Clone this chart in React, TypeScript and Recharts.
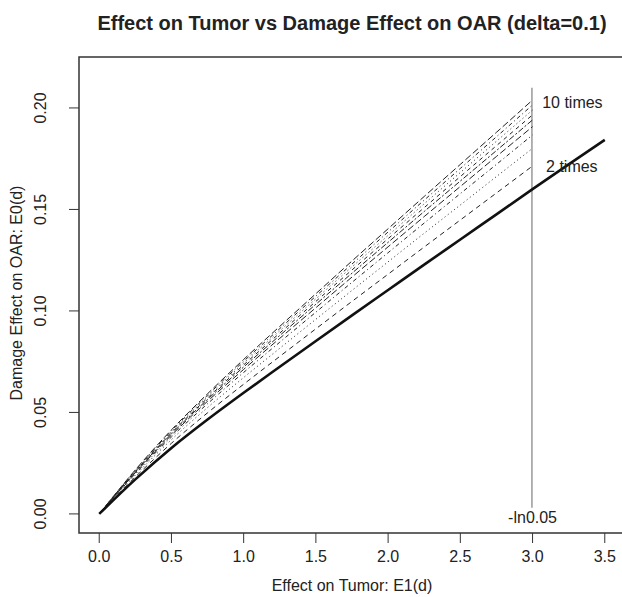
import React from 'react';
import { LineChart, Line, XAxis, YAxis, ReferenceLine, ReferenceArea, ReferenceDot } from 'recharts';

// effect on tumor E1(d)
const tumorEffect = [0, 0.25, 0.5, 0.75, 1.0, 1.25, 1.5, 1.75, 2.0, 2.25, 2.5, 2.75, 3.0, 3.25, 3.5];

// base curve (thick solid)
const baseCurve = [0, 0.017, 0.0325, 0.0465, 0.0597, 0.0725, 0.0852, 0.0978, 0.1103, 0.1228, 0.1352, 0.1476, 0.16, 0.1722, 0.1843];

// curves for 2..10 times, drawn up to -ln0.05
const times2 = [0, 0.0182, 0.0348, 0.0498, 0.0639, 0.0776, 0.0912, 0.1047, 0.1181, 0.1315, 0.1448, 0.1581, 0.1714];
const times3 = [0, 0.0191, 0.0366, 0.0524, 0.0672, 0.0816, 0.0959, 0.1101, 0.1242, 0.1383, 0.1522, 0.1662, 0.1801];
const times4 = [0, 0.0198, 0.0379, 0.0543, 0.0697, 0.0846, 0.0994, 0.1141, 0.1287, 0.1433, 0.1578, 0.1722, 0.1867];
const times5 = [0, 0.0203, 0.0388, 0.0555, 0.0712, 0.0865, 0.1016, 0.1167, 0.1316, 0.1465, 0.1613, 0.1761, 0.1908];
const times6 = [0, 0.0206, 0.0394, 0.0564, 0.0724, 0.0879, 0.1033, 0.1186, 0.1338, 0.149, 0.164, 0.179, 0.1941];
const times7 = [0, 0.0209, 0.0399, 0.0571, 0.0734, 0.0891, 0.1047, 0.1202, 0.1356, 0.1509, 0.1662, 0.1814, 0.1966];
const times8 = [0, 0.0211, 0.0404, 0.0578, 0.0743, 0.0902, 0.106, 0.1217, 0.1372, 0.1528, 0.1682, 0.1836, 0.199];
const times9 = [0, 0.0214, 0.0409, 0.0585, 0.0752, 0.0913, 0.1073, 0.1231, 0.1389, 0.1546, 0.1702, 0.1858, 0.2015];
const times10 = [0, 0.0217, 0.0414, 0.0592, 0.0761, 0.0924, 0.1085, 0.1246, 0.1405, 0.1564, 0.1722, 0.188, 0.2039];

const xTicks = [0, 0.5, 1.0, 1.5, 2.0, 2.5, 3.0, 3.5];
const yTicks = [0, 0.05, 0.1, 0.15, 0.2];

const multiples = [times2, times3, times4, times5, times6, times7, times8, times9, times10];
const dashes = ['5 4', '1 3', '1 3 4 3', '7 3', '2 2 6 2', '4 4', '1 3', '1 3 4 3', '7 3'];

const cutoff = 2.9957; // -ln(0.05)

const data = tumorEffect.map((x, i) => {
  const row: Record<string, number | undefined> = { x, base: baseCurve[i] };
  multiples.forEach((arr, k) => {
    row['t' + (k + 2)] = arr[i];
  });
  return row;
});

const FONT = '"Liberation Sans", Arial, Helvetica, sans-serif';

const YTick = (props: any) => {
  const { y, payload } = props;
  const cx = 41;
  return (
    <text
      x={cx}
      y={y}
      textAnchor="middle"
      dominantBaseline="central"
      transform={`rotate(-90, ${cx}, ${y})`}
      fontSize={16}
      fill="#222"
      fontFamily={FONT}
    >
      {Number(payload.value).toFixed(2)}
    </text>
  );
};

export default function App() {
  return (
    <div style={{ position: 'absolute', left: 0, top: 0, width: 622, height: 597, overflow: 'hidden', background: '#fff', fontFamily: FONT }}>
      <div style={{ position: 'absolute', left: 0, width: 704, top: 12, textAlign: 'center', fontSize: 20, fontWeight: 'bold', color: '#222', whiteSpace: 'nowrap' }}>
        Effect on Tumor vs Damage Effect on OAR (delta=0.1)
      </div>
      <div style={{ position: 'absolute', left: 0, width: 704, top: 577, textAlign: 'center', fontSize: 16, color: '#222', whiteSpace: 'nowrap' }}>
        Effect on Tumor: E1(d)
      </div>
      <div style={{ position: 'absolute', left: 17, top: 293, width: 0, height: 0 }}>
        <div style={{ position: 'absolute', transform: 'translate(-50%, -50%) rotate(-90deg)', fontSize: 16, color: '#222', whiteSpace: 'nowrap' }}>
          Damage Effect on OAR: E0(d)
        </div>
      </div>
      <LineChart width={640} height={597} data={data} margin={{ top: 57, right: 15, bottom: 0, left: 29 }}>
        <XAxis
          dataKey="x"
          type="number"
          domain={[-0.14, 3.64]}
          ticks={xTicks}
          tickFormatter={(v: number) => v.toFixed(1)}
          axisLine={false}
          tickSize={10}
          tickMargin={8}
          height={64}
          tick={{ fontSize: 16, fill: '#222', fontFamily: FONT }}
          tickLine={{ stroke: '#333' }}
          allowDataOverflow
        />
        <YAxis
          type="number"
          domain={[-0.0094, 0.2251]}
          ticks={yTicks}
          axisLine={false}
          tickSize={10}
          tickMargin={0}
          width={50}
          tick={<YTick />}
          tickLine={{ stroke: '#333' }}
          allowDataOverflow
        />
        <ReferenceArea x1={-0.14} x2={3.72} y1={-0.0094} y2={0.2251} fill="none" stroke="#333" strokeWidth={1.5} ifOverflow="visible" />
        <ReferenceLine
          segment={[{ x: cutoff, y: 0.003 }, { x: cutoff, y: 0.21 }]}
          stroke="#999"
          strokeWidth={1.5}
        />
        {multiples.map((_, k) => (
          <Line
            key={k}
            dataKey={'t' + (k + 2)}
            stroke="#222"
            strokeWidth={1}
            strokeDasharray={dashes[k]}
            dot={false}
            type="monotone"
            isAnimationActive={false}
          />
        ))}
        <Line dataKey="base" stroke="#111" strokeWidth={2.6} dot={false} type="monotone" isAnimationActive={false} />
        <ReferenceDot x={3.063} y={0.203} r={0.5} fill="none" stroke="none"
          label={{ value: '10 times', position: 'right', offset: 0, fontSize: 16, fill: '#222', fontFamily: FONT }} />
        <ReferenceDot x={3.09} y={0.1714} r={0.5} fill="none" stroke="none"
          label={{ value: '2 times', position: 'right', offset: 0, fontSize: 16, fill: '#222', fontFamily: FONT }} />
        <ReferenceDot x={3.0} y={-0.0015} r={0.5} fill="none" stroke="none"
          label={{ value: '-ln0.05', position: 'center', fontSize: 16, fill: '#222', fontFamily: FONT }} />
      </LineChart>
    </div>
  );
}
